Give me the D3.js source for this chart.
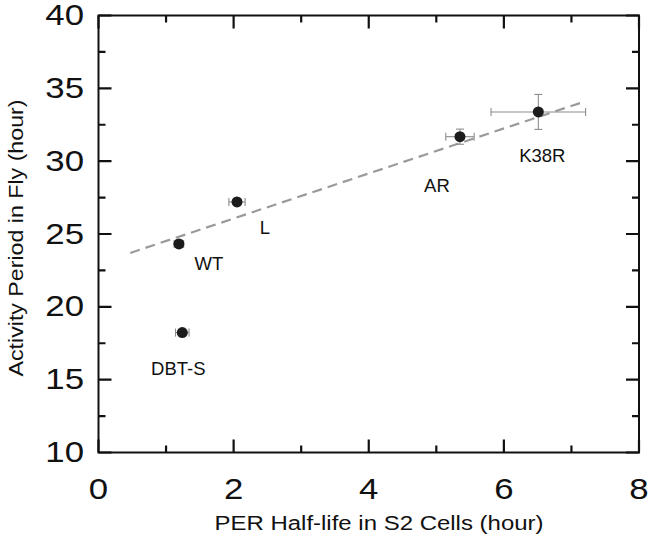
<!DOCTYPE html>
<html><head><meta charset="utf-8">
<script src="https://cdn.jsdelivr.net/npm/d3@7"></script>
<style>body{margin:0;background:#fff}svg{display:block}</style>
</head><body>
<script>
const names = ["WT", "L", "DBT-S", "AR", "K38R"];
const halfLife = [1.19, 2.05, 1.24, 5.35, 6.51];
const halfLifeErr = [0.07, 0.12, 0.1, 0.21, 0.7];
const period = [24.32, 27.2, 18.23, 31.68, 33.38];
const periodErr = [0.25, 0.2, 0.15, 0.52, 1.2];
const fitX = [0.47, 7.2];
const fitY = [23.7, 34.1];
const xTicks = [0, 2, 4, 6, 8];
const xMinor = [1, 3, 5, 7];
const yTicks = [10, 15, 20, 25, 30, 35, 40];
const yMinor = [12.5, 17.5, 22.5, 27.5, 32.5, 37.5];

const W = 650, H = 538;
const m = {l: 98.5, r: 639, t: 15.5, b: 452.5};
const svg = d3.select("body").append("svg").attr("width", W).attr("height", H);
const x = d3.scaleLinear().domain([0, 8]).range([m.l, m.r]);
const y = d3.scaleLinear().domain([10, 40]).range([m.b, m.t]);
const font = "Liberation Sans, Arial, sans-serif";

// fit line
svg.append("line")
  .attr("x1", x(fitX[0])).attr("y1", y(fitY[0]))
  .attr("x2", x(fitX[1])).attr("y2", y(fitY[1]))
  .attr("stroke", "#9a9a9a").attr("stroke-width", 2.2).attr("stroke-dasharray", "10,6");

// error bars
const eg = svg.append("g").attr("stroke", "#8c8c8c").attr("stroke-width", 1.1).attr("fill", "none");
names.forEach((n, i) => {
  const cx = x(halfLife[i]), cy = y(period[i]);
  const x0 = x(halfLife[i] - halfLifeErr[i]), x1 = x(halfLife[i] + halfLifeErr[i]);
  const y0 = y(period[i] - periodErr[i]), y1 = y(period[i] + periodErr[i]);
  eg.append("line").attr("x1", x0).attr("x2", x1).attr("y1", cy).attr("y2", cy);
  [x0, x1].forEach(v => eg.append("line").attr("x1", v).attr("x2", v).attr("y1", cy - 4).attr("y2", cy + 4));
  eg.append("line").attr("x1", cx).attr("x2", cx).attr("y1", y0).attr("y2", y1);
  [y0, y1].forEach(v => eg.append("line").attr("x1", cx - 4).attr("x2", cx + 4).attr("y1", v).attr("y2", v));
});

// points
svg.append("g").selectAll("circle").data(names).join("circle")
  .attr("cx", (d, i) => x(halfLife[i])).attr("cy", (d, i) => y(period[i]))
  .attr("r", 5.5).attr("fill", "#1c1c1c");

// point labels (pixel offsets from points)
const labelOffset = {"WT": [30, 26], "L": [28, 32], "DBT-S": [-4, 42], "AR": [-23, 55], "K38R": [4, 50]};
svg.append("g").selectAll("text").data(names).join("text")
  .attr("x", (d, i) => x(halfLife[i]) + labelOffset[d][0])
  .attr("y", (d, i) => y(period[i]) + labelOffset[d][1])
  .attr("text-anchor", "middle").attr("font-family", font).attr("font-size", 18.5).attr("fill", "#111")
  .text(d => d);

// inward ticks on all four sides, as one path
const MAJ = 13, MIN = 7;
let dTicks = "";
xTicks.forEach(v => { dTicks += `M${x(v)},${m.b}V${m.b - MAJ}M${x(v)},${m.t}V${m.t + MAJ}`; });
xMinor.forEach(v => { dTicks += `M${x(v)},${m.b}V${m.b - MIN}M${x(v)},${m.t}V${m.t + MIN}`; });
yTicks.forEach(v => { dTicks += `M${m.l},${y(v)}H${m.l + MAJ}M${m.r},${y(v)}H${m.r - MAJ}`; });
yMinor.forEach(v => { dTicks += `M${m.l},${y(v)}H${m.l + MIN}M${m.r},${y(v)}H${m.r - MIN}`; });
svg.append("path").attr("d", dTicks).attr("fill", "none").attr("stroke", "#111").attr("stroke-width", 2.2);

// frame
svg.append("rect").attr("x", m.l).attr("y", m.t).attr("width", m.r - m.l).attr("height", m.b - m.t)
  .attr("fill", "none").attr("stroke", "#111").attr("stroke-width", 2);

// tick labels (wide sans, stretched horizontally)
svg.append("g").selectAll("text").data(xTicks).join("text")
  .attr("transform", d => `translate(${x(d)},499) scale(1.2,1)`).attr("text-anchor", "middle")
  .attr("font-family", font).attr("font-size", 29).attr("fill", "#111").text(d => d);
svg.append("g").selectAll("text").data(yTicks).join("text")
  .attr("transform", d => `translate(84,${y(d) + 9.5}) scale(1.2,1)`).attr("text-anchor", "end")
  .attr("font-family", font).attr("font-size", 29).attr("fill", "#111").text(d => d);

// axis titles
svg.append("text").attr("x", 379).attr("y", 530).attr("text-anchor", "middle")
  .attr("font-family", font).attr("font-size", 20).attr("fill", "#111")
  .attr("textLength", 329).attr("lengthAdjust", "spacingAndGlyphs")
  .text("PER Half-life in S2 Cells (hour)");
svg.append("text").attr("transform", "translate(23,238) rotate(-90)").attr("text-anchor", "middle")
  .attr("font-family", font).attr("font-size", 20).attr("fill", "#111")
  .attr("textLength", 277).attr("lengthAdjust", "spacingAndGlyphs")
  .text("Activity Period in Fly (hour)");
</script>
</body></html>
